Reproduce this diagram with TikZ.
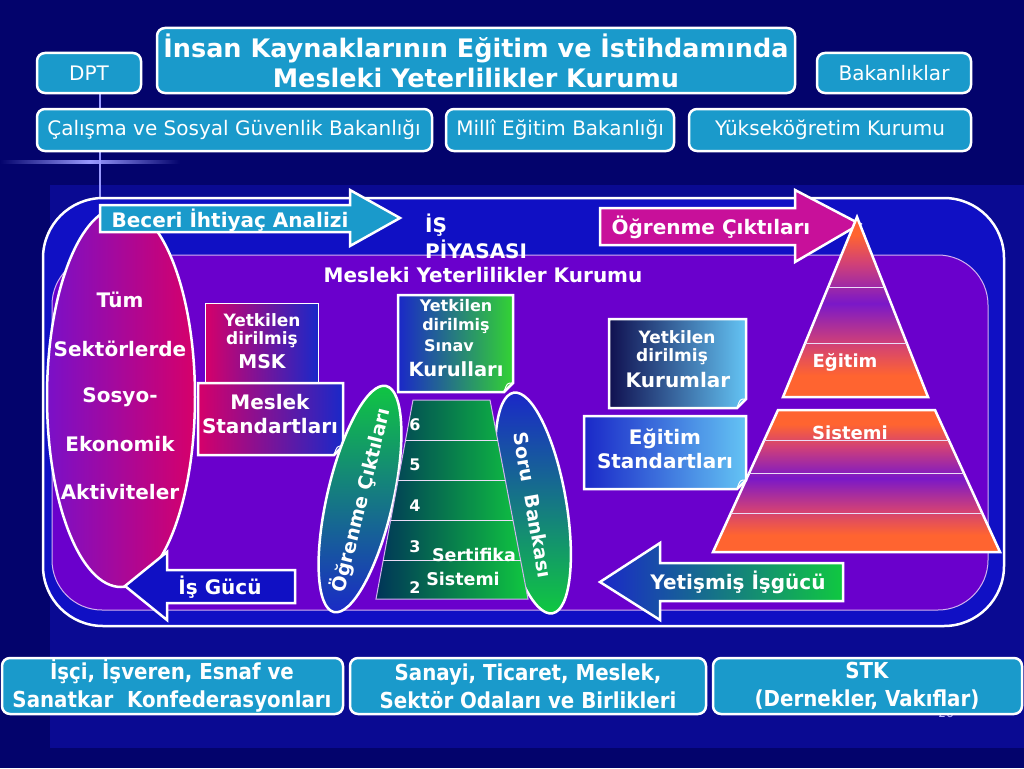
\documentclass[tikz,border=0pt]{standalone}
\usepackage{fontspec}
\setmainfont{DejaVu Sans}
\newfontfamily\condfont{DejaVu Sans Condensed}
\usetikzlibrary{shapes.geometric}
\definecolor{bgdark}{HTML}{03036C}
\definecolor{bgpanel}{HTML}{0A0A92}
\definecolor{tboxc}{HTML}{1A9ACB}
\definecolor{frameblue}{HTML}{1010C4}
\definecolor{innerpu}{HTML}{6A00CC}
\definecolor{elpu}{HTML}{7A10C8}
\definecolor{elcr}{HTML}{D6006A}
\definecolor{pyor}{HTML}{FF6430}
\definecolor{pypk}{HTML}{D04078}
\definecolor{pypu}{HTML}{7A18C8}
\definecolor{mag}{HTML}{C8109A}
\definecolor{grn}{HTML}{10C840}
\definecolor{blu}{HTML}{1A28C8}
\definecolor{navy}{HTML}{101050}
\definecolor{lblue}{HTML}{64C4F4}
\definecolor{dteal}{HTML}{003458}
\pgfdeclareverticalshading{pyr}{100bp}{color(0bp)=(pyor); color(25bp)=(pyor); color(31bp)=(pyor); color(40bp)=(pypk); color(51bp)=(pypu); color(62bp)=(pypk); color(70bp)=(pyor); color(75bp)=(pyor); color(100bp)=(pyor)}
\tikzset{
  tbox/.style={draw=white, line width=2.5pt, rounded corners=8pt, fill=tboxc},
  ttxt/.style={text=white, font=\fontsize{20}{24}\selectfont, inner sep=0pt},
  lbl/.style={text=white, font=\bfseries\fontsize{20}{24}\selectfont, inner sep=0pt, align=center},
  slbl/.style={text=white, font=\bfseries\fontsize{17}{20}\selectfont, inner sep=0pt},
  num/.style={text=white, font=\bfseries\fontsize{16}{18}\selectfont, inner sep=0pt},
  btxt/.style={text=white, font=\condfont\bfseries\fontsize{22}{28}\selectfont, inner sep=0pt, align=center},
  wline/.style={draw=white, line width=2.5pt},
  band/.style={draw=white!85!pypu, line width=1pt}
}
\begin{document}
\begin{tikzpicture}[x=1pt,y=-1pt]
\useasboundingbox (0,0) rectangle (1024,768);
\fill[bgdark] (0,0) rectangle (1024,768);
\fill[bgpanel] (50,185) rectangle (1024,748);
% decorative lines
\shade[left color=bgdark, right color=bgdark, middle color=white!60!blue] (0,160) rectangle (180,163);
\draw[blue!40!white, line width=1.5pt] (100,93) -- (100,109);
\draw[blue!40!white, line width=1.5pt] (100,151) -- (100,198);
% top boxes
\draw[tbox] (37,53) rectangle (141,93);
\node[ttxt] (dpt) at (89,73) {DPT};
\draw[tbox] (157,28) rectangle (795,93);
\node[text=white, font=\bfseries\fontsize{25.5}{30}\selectfont, align=center, inner sep=0pt] (title) at (476,61) {İnsan Kaynaklarının Eğitim ve İstihdamında\\Mesleki Yeterlilikler Kurumu};
\draw[tbox] (817,53) rectangle (971,93);
\node[ttxt] (bak) at (894,73) {Bakanlıklar};
\draw[tbox] (37,109) rectangle (432,151);
\node[ttxt] (csgb) at (234,130) {Çalışma ve Sosyal Güvenlik Bakanlığı};
\draw[tbox] (446,109) rectangle (674,151);
\node[ttxt] (meb) at (560,130) {Millî Eğitim Bakanlığı};
\draw[tbox] (689,109) rectangle (971,151);
\node[ttxt] (yok) at (830,130) {Yükseköğretim Kurumu};
% main frame
\draw[wline, fill=frameblue, rounded corners=60pt] (43,198) rectangle (1004,626);
\draw[draw=white!70!innerpu, line width=1pt, fill=innerpu, rounded corners=50pt] (52,255) rectangle (988,610);
% left ellipse
\draw[wline, left color=elpu, right color=elcr] (121,397) ellipse [x radius=74, y radius=190];
\node[lbl] (t1) at (120,300) {Tüm};
\node[lbl] (t2) at (120,349) {Sektörlerde};
\node[lbl] (t3) at (120,397) {Sosyo-};
\node[lbl] (t4) at (120,444) {Ekonomik};
\node[lbl] (t5) at (120,492) {Aktiviteler};
% Beceri arrow
\draw[wline, fill=tboxc] (100,205) -- (350,205) -- (350,190) -- (400,218) -- (350,246) -- (350,232) -- (100,232) -- cycle;
\node[lbl] (beceri) at (230,220) {Beceri İhtiyaç Analizi};
\node[lbl, anchor=west, align=left, font=\bfseries\fontsize{20}{26}\selectfont] (isp) at (425,236) {İŞ\\PİYASASI};
\node[lbl] (myk) at (483,275) {Mesleki Yeterlilikler Kurumu};
% Ogrenme ciktilari arrow
\draw[wline, fill=mag] (600,208) -- (795,208) -- (795,190) -- (860,224) -- (795,262) -- (795,245) -- (600,245) -- cycle;
\node[lbl] (oc) at (711,227) {Öğrenme Çıktıları};
% pyramid
\draw[wline, shading=pyr] (857,217) -- (928,397) -- (783,397) -- cycle;
\draw[band] (828.2,287) -- (884.6,287);
\draw[band] (805.2,343) -- (906.7,343);
\draw[wline, shading=pyr] (778,410) -- (935,410) -- (1000,552) -- (713,552) -- cycle;
\draw[band] (764.3,440) -- (948.7,440);
\draw[band] (749.2,473) -- (963.8,473);
\draw[band] (730.9,513) -- (982.1,513);
\node[lbl, font=\bfseries\fontsize{18}{20}\selectfont] (egt) at (845,362) {Eğitim};
\node[lbl, font=\bfseries\fontsize{18}{20}\selectfont] (sis) at (850,433) {Sistemi};
% MSK boxes
\draw[draw=white, line width=1pt, left color=elcr, right color=blu] (205,303) rectangle (318,382);
\node[slbl] (msk1) at (262,320) {Yetkilen};
\node[slbl] (msk2) at (262,340) {dirilmiş};
\node[slbl, font=\bfseries\fontsize{19}{20}\selectfont] (msk3) at (262,362) {MSK};
\draw[wline, left color=elcr, right color=blu] (198,383) -- (343,383) -- (343,446) -- (334,455) -- (198,455) -- cycle;
\draw[white, line width=1pt] (343,446) .. controls (337,446) .. (334,455);
\node[lbl, font=\bfseries\fontsize{20}{24}\selectfont] (ms) at (270,414) {Meslek\\Standartları};
% Sinav kurullari
\draw[wline, left color=blu, right color=grn!80!lime] (398,295) -- (513,295) -- (513,383) -- (504,392) -- (398,392) -- cycle;
\draw[white, line width=1pt] (513,383) .. controls (507,383) .. (504,392);
\node[slbl, font=\bfseries\fontsize{16}{20}\selectfont] (sk1) at (456,306) {Yetkilen};
\node[slbl, font=\bfseries\fontsize{16}{20}\selectfont] (sk2) at (456,326) {dirilmiş};
\node[slbl, font=\bfseries\fontsize{16}{20}\selectfont] (sk3) at (449,346) {Sınav};
\node[slbl, font=\bfseries\fontsize{19.5}{20}\selectfont] (sk4) at (456,369) {Kurulları};
% Ogrenme ciktilari ellipse
\draw[wline, top color=grn, bottom color=blu, rotate around={-13:(360,499)}] (360,499) ellipse [x radius=33, y radius=116];
\node[lbl, rotate=76, font=\bfseries\fontsize{19}{20}\selectfont] (oce) at (361,500) {Öğrenme Çıktıları};
% Soru bankasi ellipse
\draw[wline, top color=blu, bottom color=grn, rotate around={10:(533,503)}] (533,503) ellipse [x radius=33, y radius=112];
\node[lbl, rotate=-80, font=\bfseries\fontsize{19}{20}\selectfont] (sb) at (533,505) {Soru\ \ Bankası};
% Sertifika trapezoid
\draw[draw=white!70!innerpu, line width=1pt, left color=dteal, right color=grn] (413,400) -- (490,400) -- (528,599) -- (376,599) -- cycle;
\draw[band] (405.6,440) -- (497.6,440);
\draw[band] (398.1,480) -- (505.3,480);
\draw[band] (390.7,520) -- (512.9,520);
\draw[band] (383.3,560) -- (520.6,560);
\node[num] (n6) at (415,425) {6};
\node[num] (n5) at (415,465) {5};
\node[num] (n4) at (415,506) {4};
\node[num] (n3) at (415,547) {3};
\node[num] (n2) at (415,588) {2};
\node[lbl, font=\bfseries\fontsize{17.5}{20}\selectfont] (sert1) at (474,555) {Sertifika};
\node[lbl, font=\bfseries\fontsize{17.5}{20}\selectfont] (sert2) at (463,579) {Sistemi};
% Kurumlar box
\draw[wline, left color=navy, right color=lblue] (609,319) -- (746,319) -- (746,399) -- (737,408) -- (609,408) -- cycle;
\draw[white, line width=1pt] (746,399) .. controls (740,399) .. (737,408);
\node[slbl] (kur1) at (677,337) {Yetkilen};
\node[slbl] (kur2) at (672,357) {dirilmiş};
\node[slbl, font=\bfseries\fontsize{20}{20}\selectfont] (kur3) at (678,380) {Kurumlar};
% Egitim standartlari
\draw[wline, left color=blu, right color=lblue] (584,416) -- (746,416) -- (746,480) -- (737,489) -- (584,489) -- cycle;
\draw[white, line width=1pt] (746,480) .. controls (740,480) .. (737,489);
\node[lbl, font=\bfseries\fontsize{20}{24}\selectfont] (es) at (665,449) {Eğitim\\Standartları};
% Yetismis isgucu arrow
\draw[wline, left color=blu, right color=grn] (600,582) -- (660,543) -- (660,563) -- (843,563) -- (843,601) -- (660,601) -- (660,620) -- cycle;
\node[lbl] (yi) at (738,582) {Yetişmiş İşgücü};
% Is gucu arrow
\draw[wline, fill=frameblue] (125,586) -- (167,552) -- (167,570) -- (295,570) -- (295,603) -- (167,603) -- (167,620) -- cycle;
\node[lbl] (ig) at (220,587) {İş Gücü};
% page number
\node[text=white!70!blue, font=\fontsize{12}{14}\selectfont, inner sep=0pt] (pg) at (946,713) {26};
% bottom boxes
\draw[tbox] (2,658) rectangle (343,714);
\node[btxt] (b1) at (172,686) {İşçi, İşveren, Esnaf ve\\Sanatkar\ \ Konfederasyonları};
\draw[tbox] (350,658) rectangle (706,714);
\node[btxt] (b2) at (528,686) {Sanayi, Ticaret, Meslek,\\Sektör Odaları ve Birlikleri};
\draw[tbox] (713,658) rectangle (1022,714);
\node[btxt] (b3) at (867,686) {STK\\(Dernekler, Vakıflar)};
\end{tikzpicture}
\end{document}
